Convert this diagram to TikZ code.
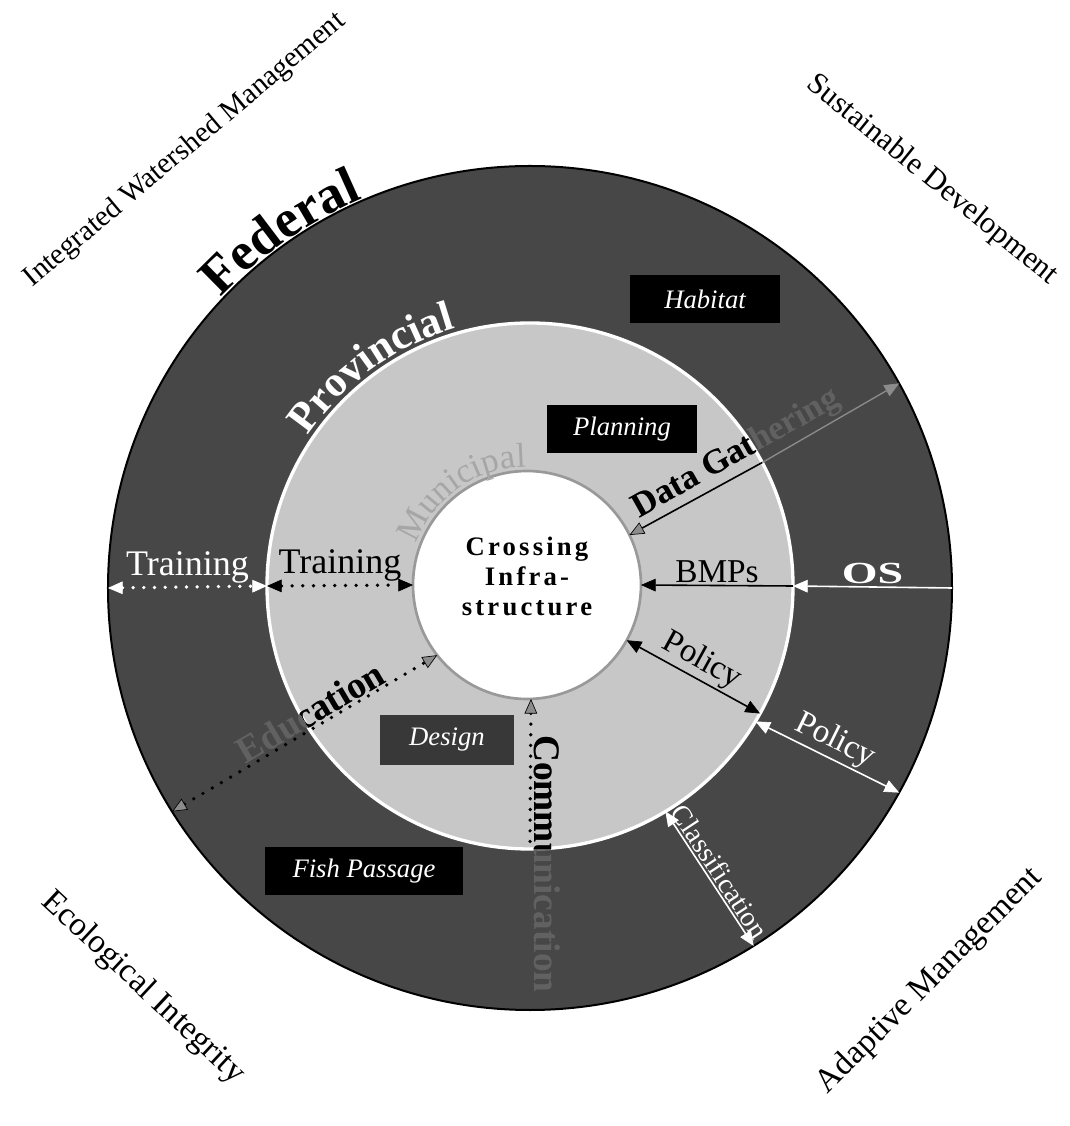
\documentclass[tikz,border=0pt]{standalone}
\usepackage{graphicx}
\usepackage{fontspec}
\setmainfont{Liberation Serif}
\newfontfamily\trackfont[LetterSpace=12]{Liberation Serif}
\usetikzlibrary{arrows.meta,decorations.text}

\begin{document}
\begin{tikzpicture}[x=0.75pt, y=0.75pt,
  >={Triangle[length=11pt,width=9.5pt,line width=0.5pt]},
  Gtri/.tip={Triangle[length=11pt,width=9.5pt,line width=0.5pt,fill=black!45]},
  ring/.style={circle, inner sep=0pt, outer sep=0pt},
  tag/.style={fill=black, text=white, minimum width=112.5pt, minimum height=36pt, font=\fontsize{20}{20}\selectfont\itshape},
  corner/.style={font=\fontsize{22}{22}\selectfont},
  lbl/.style={font=\fontsize{25}{25}\selectfont, inner sep=1.5pt},
  heavy/.style={font=\fontsize{28}{28}\selectfont\bfseries, inner sep=1.5pt},
  kline/.style={black, line width=1.2pt},
  wline/.style={white, line width=1.2pt},
  kdots/.style={black, line width=2.8pt, line cap=round, dash pattern=on 0pt off 8pt},
  wdots/.style={kdots, white}]
\useasboundingbox (-530,-538) rectangle (539,588);

% the three levels
\node[ring, draw=black, line width=1.5pt, fill=black!72, minimum size=633pt] (ring1) at (0,0) {};
\node[ring, draw=white, line width=2.5pt, fill=black!22, minimum size=394.5pt] (ring2) at (0,2) {};
\node[ring, draw=black!40, line width=2pt, fill=white, minimum size=171pt] (core) at (-3,3) {};
\node[font=\fontsize{20}{22.5}\selectfont\trackfont\bfseries, align=center] (crossing) at (-3,12) {Crossing\\Infra-\\structure};

% boxes
\node[tag] (habitat) at (175,289) {Habitat};
\node[tag] (planning) at (92,159) {Planning};
\node[tag, fill=black!78, minimum width=100pt, minimum height=37.5pt] (design) at (-83,-152) {Design};
\node[tag, minimum width=148.5pt] (fish) at (-166,-283) {Fish Passage};

% level names
\path[decorate, decoration={text along path, text align=center,
  text={|\fontsize{40}{40}\selectfont\bfseries|Federal}}]
  (147:424) arc[start angle=147, end angle=103, radius=424];
\path[decorate, decoration={text along path, text align=center,
  text={|\fontsize{32}{32}\selectfont\bfseries\color{white}|Provincial}}]
  ([shift={(0,2)}]151:268) arc[start angle=151, end angle=101, radius=268];
\path[decorate, decoration={text along path, text align=center,
  text={|\fontsize{26}{26}\selectfont\color{black!35}|Municipal}}]
  ([shift={(-3,3)}]165:118) arc[start angle=165, end angle=85, radius=118];

% corner themes
\node[corner, rotate=40] (iwm) at (-345,438) {Integrated Watershed Management};
\node[corner, font=\fontsize{23}{23}\selectfont, rotate=-39] (sd) at (402,408) {Sustainable Development};
\node[corner, font=\fontsize{25}{25}\selectfont, rotate=-43] (ei) at (-387,-400) {Ecological Integrity};
\node[corner, font=\fontsize{25}{25}\selectfont, rotate=45] (am) at (400,-393) {Adaptive Management};

% training
\draw[wdots, <->] (ring1.180) -- node[lbl, font=\fontsize{27}{27}\selectfont, above, text=white] (trainOut) {Training} (ring2.180);
\draw[kdots, <->] (ring2.180) -- node[lbl, font=\fontsize{27}{27}\selectfont, above] (trainIn) {Training} (core.180);

% data gathering
\draw[kline, Gtri-] (core.26) -- (ring2.28);
\draw[black!45, line width=1pt, -Gtri] (ring2.28) -- (ring1.29);
\path (core.26) -- node[heavy, font=\fontsize{26}{26}\selectfont\bfseries, sloped, above, pos=.43, text=black!62] (dataB) {Data Gathering} (ring1.29);
\begin{scope}
  \clip (0,2) circle (263);
  \path (core.26) -- node[heavy, font=\fontsize{26}{26}\selectfont\bfseries, sloped, above, pos=.43] (dataA) {Data Gathering} (ring1.29);
\end{scope}

% BMPs and OS
\draw[kline, ->] (ring2.0) -- node[lbl, above] (bmps) {BMPs} (core.0);
\draw[wline, ->] (ring1.0) -- node[above, text=white, inner sep=1.5pt, font=\fontsize{23}{23}\selectfont\bfseries] (os) {\scalebox{1.5}[1]{OS}} (ring2.0);

% policy
\draw[kline, <->] (core.-29) -- node[lbl, sloped, above] (polIn) {Policy} (ring2.-29);
\draw[wline, <->] (ring2.-31) -- node[lbl, sloped, above, text=white] (polOut) {Policy} (ring1.-29);

% classification
\draw[wline, <->] (ring2.-59) -- node[sloped, above, text=white, inner sep=1.5pt, font=\fontsize{21}{21}\selectfont] (classif) {Classification} (ring1.-58);

% communication
\draw[kdots, Gtri-] (core.-88) -- (ring2.-90);
\node[heavy, rotate=-90, anchor=south west, text=black!62] (commB) at (2,-145) {Communication};
\begin{scope}
  \clip (0,2) circle (263);
  \node[heavy, rotate=-90, anchor=south west] (commA) at (2,-145) {Communication};
\end{scope}

% education
\draw[kdots, Gtri-Gtri] (ring1.212) -- (core.218);
\path (ring1.212) -- node[heavy, sloped, above, pos=.55, text=black!62] (eduB) {Education} (core.218);
\begin{scope}
  \clip (0,2) circle (263);
  \path (ring1.212) -- node[heavy, sloped, above, pos=.55] (eduA) {Education} (core.218);
\end{scope}
\end{tikzpicture}
\end{document}
